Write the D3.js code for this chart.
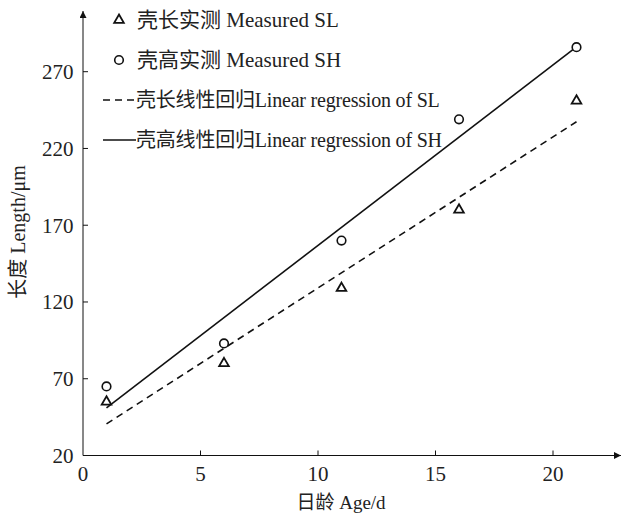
<!DOCTYPE html>
<html>
<head>
<meta charset="utf-8">
<script src="https://cdn.jsdelivr.net/npm/d3@7"></script>
<style>
  body { margin: 0; background: #fff; }
  svg text { font-family: "Liberation Serif", "Noto Sans CJK SC", serif; fill: #222; }
</style>
</head>
<body>
<div id="chart"></div>
<script>
// Age (days) and measured shell size (um)
const ages = [1, 6, 11, 16, 21];
const shellLength = [55, 80, 129, 180, 251];
const shellHeight = [65, 93, 160, 239, 286];

const xTicks = [0, 5, 10, 15, 20];
const yTicks = [20, 70, 120, 170, 220, 270];

const legendLabels = [
  '壳长实测 Measured SL',
  '壳高实测 Measured SH',
  '壳长线性回归Linear regression of SL',
  '壳高线性回归Linear regression of SH'
];

const width = 622;
const height = 515;
const ink = '#111';

const svg = d3.select('#chart')
  .append('svg')
    .attr('width', width)
    .attr('height', height);

// least squares fit
function linearFit(xs, ys) {
  const mx = d3.mean(xs), my = d3.mean(ys);
  const slope = d3.sum(xs, (x, i) => (x - mx) * (ys[i] - my)) / d3.sum(xs, x => (x - mx) ** 2);
  return { slope, intercept: my - slope * mx };
}

const xScale = d3.scaleLinear().domain([0, 21]).range([83, 576.5]);
const yScale = d3.scaleLinear().domain([20, 270]).range([455.5, 71.7]);

const axisY = yScale(20), axisX = xScale(0);

// axis lines with arrow heads
svg.append('defs').append('marker')
    .attr('id', 'arrow')
    .attr('viewBox', '0 0 10 10')
    .attr('refX', 10).attr('refY', 5)
    .attr('markerWidth', 7).attr('markerHeight', 7)
    .attr('markerUnits', 'userSpaceOnUse')
    .attr('orient', 'auto')
  .append('path')
    .attr('d', 'M0,0 L10,5 L0,10 Z')
    .attr('fill', ink);

svg.append('line')
    .attr('x1', axisX).attr('y1', axisY)
    .attr('x2', 621).attr('y2', axisY)
    .attr('stroke', ink).attr('stroke-width', 1)
    .attr('marker-end', 'url(#arrow)');

svg.append('line')
    .attr('x1', axisX).attr('y1', axisY)
    .attr('x2', axisX).attr('y2', 11)
    .attr('stroke', ink).attr('stroke-width', 1)
    .attr('marker-end', 'url(#arrow)');

// x ticks (inward)
svg.selectAll('.xtick')
  .data(xTicks.filter(d => d > 0))
  .join('line')
    .attr('x1', d => xScale(d)).attr('x2', d => xScale(d))
    .attr('y1', axisY).attr('y2', axisY - 5)
    .attr('stroke', ink);

svg.selectAll('.xlabel')
  .data(xTicks)
  .join('text')
    .attr('x', d => xScale(d))
    .attr('y', 474)
    .attr('dy', '0.35em')
    .attr('text-anchor', 'middle')
    .style('font-size', '21px')
    .text(d => d);

// y ticks (inward)
svg.selectAll('.ytick')
  .data(yTicks.filter(d => d > 20))
  .join('line')
    .attr('x1', axisX).attr('x2', axisX + 5)
    .attr('y1', d => yScale(d)).attr('y2', d => yScale(d))
    .attr('stroke', ink);

svg.selectAll('.ylabel')
  .data(yTicks)
  .join('text')
    .attr('x', 73.5)
    .attr('y', d => yScale(d))
    .attr('dy', '0.35em')
    .attr('text-anchor', 'end')
    .style('font-size', '21px')
    .text(d => d);

// axis titles
svg.append('text')
    .attr('x', 341).attr('y', 502)
    .attr('dy', '0.35em')
    .attr('text-anchor', 'middle')
    .style('font-size', '19px')
    .text('日龄 Age/d');

svg.append('text')
    .attr('transform', 'translate(18, 232) rotate(-90)')
    .attr('dy', '0.35em')
    .attr('text-anchor', 'middle')
    .style('font-size', '20px')
    .text('长度 Length/μm');

// regression lines
const fitSL = linearFit(ages, shellLength);
const fitSH = linearFit(ages, shellHeight);
const xExt = d3.extent(ages);

const fitLine = d3.line()
    .x(d => xScale(d[0]))
    .y(d => yScale(d[1]));

svg.append('path')
    .datum(xExt.map(x => [x, fitSL.intercept + fitSL.slope * x]))
    .attr('d', fitLine)
    .attr('fill', 'none')
    .attr('stroke', ink)
    .attr('stroke-width', 1.6)
    .attr('stroke-dasharray', '7,5');

svg.append('path')
    .datum(xExt.map(x => [x, fitSH.intercept + fitSH.slope * x]))
    .attr('d', fitLine)
    .attr('fill', 'none')
    .attr('stroke', ink)
    .attr('stroke-width', 1.6);

// markers
const triangle = d3.symbol().type(d3.symbolTriangle).size(40);

svg.selectAll('.sl')
  .data(ages.map((a, i) => [a, shellLength[i]]))
  .join('path')
    .attr('transform', d => `translate(${xScale(d[0])},${yScale(d[1])})`)
    .attr('d', triangle)
    .attr('fill', '#fff')
    .attr('stroke', ink)
    .attr('stroke-width', 1.8);

svg.selectAll('.sh')
  .data(ages.map((a, i) => [a, shellHeight[i]]))
  .join('circle')
    .attr('cx', d => xScale(d[0]))
    .attr('cy', d => yScale(d[1]))
    .attr('r', 4.3)
    .attr('fill', '#fff')
    .attr('stroke', ink)
    .attr('stroke-width', 1.6);

// legend
const legend = svg.append('g');
const rowY = i => 20 + i * 40;

legend.append('path')
    .attr('transform', `translate(119,${rowY(0)})`)
    .attr('d', triangle)
    .attr('fill', '#fff').attr('stroke', ink).attr('stroke-width', 1.8);

legend.append('circle')
    .attr('cx', 119).attr('cy', rowY(1)).attr('r', 4.3)
    .attr('fill', '#fff').attr('stroke', ink).attr('stroke-width', 1.6);

legend.append('line')
    .attr('x1', 103).attr('x2', 136).attr('y1', rowY(2)).attr('y2', rowY(2))
    .attr('stroke', ink).attr('stroke-width', 1.6).attr('stroke-dasharray', '7,5');

legend.append('line')
    .attr('x1', 103).attr('x2', 136).attr('y1', rowY(3)).attr('y2', rowY(3))
    .attr('stroke', ink).attr('stroke-width', 1.4);

legend.selectAll('text')
  .data(legendLabels)
  .join('text')
    .attr('x', (d, i) => i < 2 ? 137 : 136)
    .attr('y', (d, i) => rowY(i))
    .attr('dy', '0.35em')
    .style('font-size', (d, i) => i < 2 ? '21px' : '20px')
    .style('letter-spacing', (d, i) => i < 2 ? '0px' : '-0.2px')
    .text(d => d);
</script>
</body>
</html>
